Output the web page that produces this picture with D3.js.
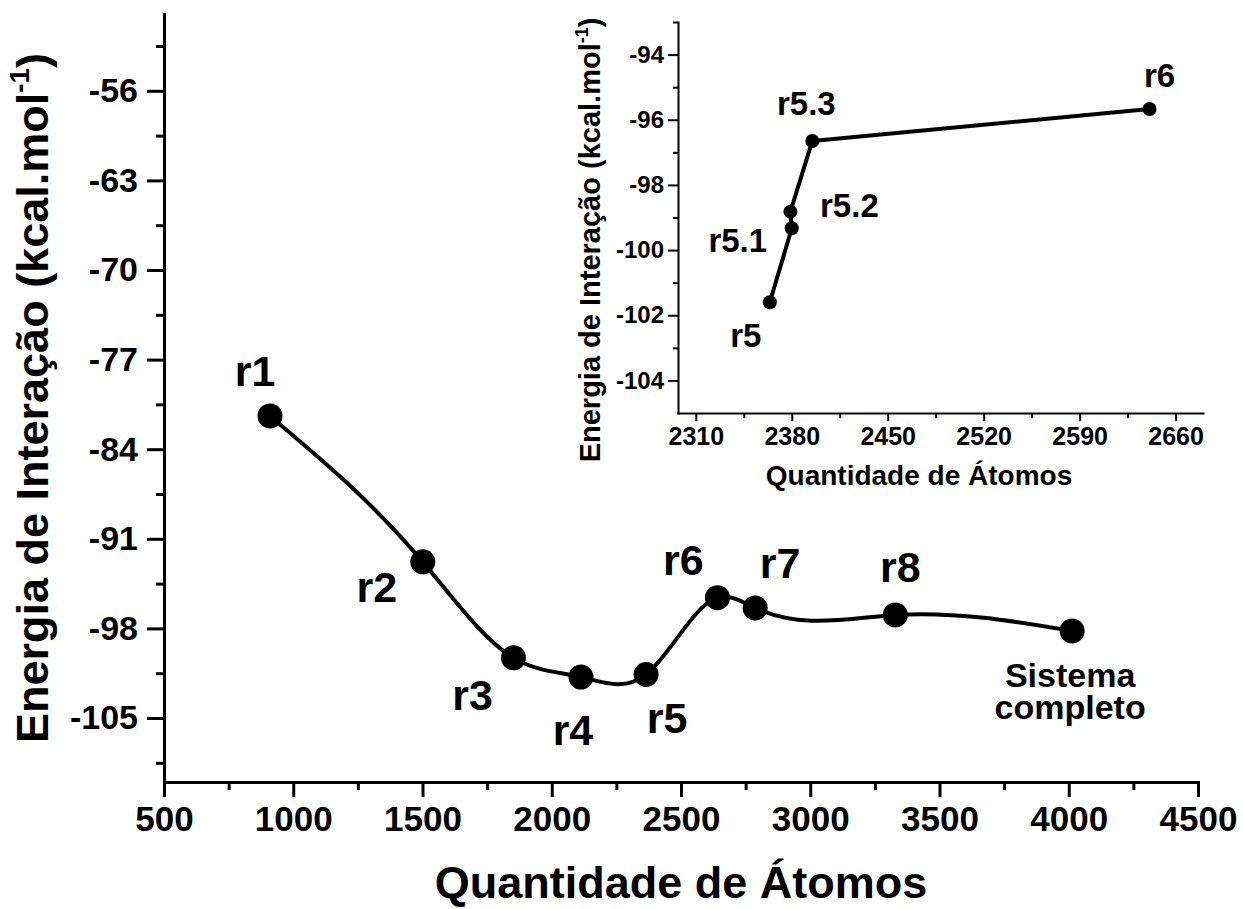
<!DOCTYPE html>
<html>
<head>
<meta charset="utf-8">
<script src="https://cdn.jsdelivr.net/npm/d3@7"></script>
<style>
  html, body { margin: 0; padding: 0; background: #fff; }
  svg { display: block; }
  text { font-family: "Liberation Sans", Arial, sans-serif; font-weight: bold; fill: #000; }
</style>
</head>
<body>
<svg id="chart" width="1243" height="909"></svg>
<script>
// Main series: interaction energy vs. number of atoms per region
const regions = ["r1", "r2", "r3", "r4", "r5", "r6", "r7", "r8", "Sistema completo"];
const atoms   = [910, 1501, 1852, 2113, 2365, 2641, 2787, 3329, 4013];
const energy  = [-81.4, -92.8, -100.3, -101.8, -101.6, -95.6, -96.4, -96.95, -98.2];

// Inset series: intermediate regions between r5 and r6
const insetRegions = ["r5", "r5.1", "r5.2", "r5.3", "r6"];
const insetAtoms   = [2364, 2380, 2379, 2395, 2641];
const insetEnergy  = [-101.6, -99.33, -98.82, -96.65, -95.67];

// Tick values
const mainXTicks  = [500, 1000, 1500, 2000, 2500, 3000, 3500, 4000, 4500];
const mainXMinor  = [750, 1250, 1750, 2250, 2750, 3250, 3750, 4250];
const mainYTicks  = [-105, -98, -91, -84, -77, -70, -63, -56];
const mainYMinor  = [-108.5, -101.5, -94.5, -87.5, -80.5, -73.5, -66.5, -59.5, -52.5];
const insetXTicks = [2310, 2380, 2450, 2520, 2590, 2660];
const insetXMinor = [2345, 2415, 2485, 2555, 2625];
const insetYTicks = [-104, -102, -100, -98, -96, -94];
const insetYMinor = [-103, -101, -99, -97, -95, -93];

// Label placement relative to each marker (pixels)
const mainLabelOffsets  = [[-15, -30], [-46, 40], [-41, 52], [-8, 68], [21, 59], [-34, -23], [25, -30], [5, -33], [-2, 56]];
const insetLabelOffsets = [[-24, 45], [-54, 24], [59, 5], [-6, -26], [10, -22]];

// Cubic spline through the points, y as a function of x (natural end conditions)
function curveSplineX(context) { return new SplineX(context); }
function SplineX(context) { this._context = context; }
SplineX.prototype = {
  areaStart() { this._line = 0; },
  areaEnd() { this._line = NaN; },
  lineStart() { this._x = []; this._y = []; },
  point(x, y) { this._x.push(+x); this._y.push(+y); },
  lineEnd() {
    const xs = this._x, ys = this._y, n = xs.length, c = this._context;
    if (!n) return;
    c.moveTo(xs[0], ys[0]);
    if (n === 1) return;
    if (n === 2) { c.lineTo(xs[1], ys[1]); return; }
    const h = [];
    for (let i = 0; i < n - 1; i++) h.push(xs[i + 1] - xs[i]);
    const a = [], b = [], cc = [], d = [];
    for (let i = 1; i < n - 1; i++) {
      a.push(h[i - 1]); b.push(2 * (h[i - 1] + h[i])); cc.push(h[i]);
      d.push(6 * ((ys[i + 1] - ys[i]) / h[i] - (ys[i] - ys[i - 1]) / h[i - 1]));
    }
    const m = b.length;
    for (let i = 1; i < m; i++) {
      const w = a[i] / b[i - 1];
      b[i] -= w * cc[i - 1];
      d[i] -= w * d[i - 1];
    }
    const sol = new Array(m);
    sol[m - 1] = d[m - 1] / b[m - 1];
    for (let i = m - 2; i >= 0; i--) sol[i] = (d[i] - cc[i] * sol[i + 1]) / b[i];
    const M = new Array(n).fill(0);
    for (let i = 1; i < n - 1; i++) M[i] = sol[i - 1];
    for (let i = 0; i < n - 1; i++) {
      const hi = h[i], slope = (ys[i + 1] - ys[i]) / hi;
      const s0 = slope - hi * (2 * M[i] + M[i + 1]) / 6;
      const s1 = slope + hi * (M[i] + 2 * M[i + 1]) / 6;
      c.bezierCurveTo(xs[i] + hi / 3, ys[i] + s0 * hi / 3,
                      xs[i + 1] - hi / 3, ys[i + 1] - s1 * hi / 3,
                      xs[i + 1], ys[i + 1]);
    }
  }
};

const svg = d3.select("#chart");
svg.append("rect").attr("width", 1243).attr("height", 909).attr("fill", "#fff");

function drawAxes(g, x, y, o) {
  const bottom = y.range()[0];
  const left = x.range()[0];
  // minor ticks
  g.append("g").attr("transform", `translate(0,${bottom})`)
    .call(d3.axisBottom(x).tickValues(o.xMinor).tickSize(o.minorLen).tickFormat(""))
    .call(s => s.select(".domain").remove())
    .selectAll("line").attr("stroke-width", o.sw);
  g.append("g").attr("transform", `translate(${left},0)`)
    .call(d3.axisLeft(y).tickValues(o.yMinor).tickSize(o.minorLen).tickFormat(""))
    .call(s => s.select(".domain").remove())
    .selectAll("line").attr("stroke-width", o.sw);
  // major ticks + labels
  const gx = g.append("g").attr("transform", `translate(0,${bottom})`)
    .call(d3.axisBottom(x).tickValues(o.xTicks).tickSize(o.majorLenX).tickSizeOuter(0)
      .tickPadding(o.padX).tickFormat(d3.format("d")));
  const gy = g.append("g").attr("transform", `translate(${left},0)`)
    .call(d3.axisLeft(y).tickValues(o.yTicks).tickSize(o.majorLenY).tickSizeOuter(0)
      .tickPadding(o.padY).tickFormat(d => d3.format("d")(d).replace("−", "-")));
  [gx, gy].forEach(ax => {
    ax.selectAll("line").attr("stroke-width", o.sw);
    ax.select(".domain").attr("stroke-width", o.sw).attr("stroke-linecap", "square");
    ax.selectAll("text").attr("font-family", null).attr("font-size", null)
      .style("font-size", o.tickFont + "px");
  });
  gx.selectAll("text").style("font-size", o.tickFontX + "px");
}

function yTitle(g, x, y, size) {
  const t = g.append("text")
    .attr("transform", `translate(${x},${y}) rotate(-90)`)
    .attr("text-anchor", "middle")
    .style("font-size", size + "px");
  t.append("tspan").text("Energia de Interação (kcal.mol");
  t.append("tspan").attr("dy", -0.42 * size).style("font-size", (size * 0.62) + "px").text("-1");
  t.append("tspan").attr("dy", 0.42 * size).text(")");
}

// ---------- main chart ----------
const x = d3.scaleLinear().domain([500, 4500]).range([164, 1198]);
const y = d3.scaleLinear().domain([-110, -50]).range([782, 14]);
const main = svg.append("g");

drawAxes(main, x, y, {
  xTicks: mainXTicks, xMinor: mainXMinor, yTicks: mainYTicks, yMinor: mainYMinor,
  majorLenX: 15, majorLenY: 17, minorLen: 8, padX: 9, padY: 9, sw: 3,
  tickFont: 34, tickFontX: 35
});

const mainPts = atoms.map((a, i) => ({ x: a, y: energy[i], name: regions[i], off: mainLabelOffsets[i] }));

main.append("path")
  .datum(mainPts)
  .attr("fill", "none").attr("stroke", "#000").attr("stroke-width", 4)
  .attr("d", d3.line().x(d => x(d.x)).y(d => y(d.y)).curve(curveSplineX));

main.selectAll("circle.m").data(mainPts).join("circle")
  .attr("class", "m").attr("cx", d => x(d.x)).attr("cy", d => y(d.y)).attr("r", 12.5).attr("fill", "#000");

main.selectAll("text.lbl").data(mainPts).join("text")
  .attr("class", "lbl")
  .attr("text-anchor", "middle")
  .attr("x", d => x(d.x) + d.off[0])
  .attr("y", d => y(d.y) + d.off[1])
  .style("font-size", d => d.name.includes(" ") ? "34px" : "43px")
  .each(function (d) {
    const words = d.name.split(" ");
    const sel = d3.select(this);
    words.forEach((w, k) => {
      sel.append("tspan").attr("x", x(d.x) + d.off[0]).attr("dy", k === 0 ? 0 : 32).text(w);
    });
  });

main.append("text").attr("x", 681).attr("y", 898).attr("text-anchor", "middle")
  .style("font-size", "45px").text("Quantidade de Átomos");
yTitle(main, 48, 398, 45);

// ---------- inset ----------
const xi = d3.scaleLinear().domain([2297, 2680]).range([678, 1203]);
const yi = d3.scaleLinear().domain([-105, -93]).range([413, 22]);
const inset = svg.append("g");

drawAxes(inset, xi, yi, {
  xTicks: insetXTicks, xMinor: insetXMinor, yTicks: insetYTicks, yMinor: insetYMinor,
  majorLenX: 8, majorLenY: 10, minorLen: 5, padX: 6, padY: 4, sw: 2,
  tickFont: 24, tickFontX: 25
});

const insetPts = insetAtoms.map((a, i) => ({ x: a, y: insetEnergy[i], name: insetRegions[i], off: insetLabelOffsets[i] }));

inset.append("path")
  .datum(insetPts)
  .attr("fill", "none").attr("stroke", "#000").attr("stroke-width", 4)
  .attr("stroke-linejoin", "round")
  .attr("d", d3.line().x(d => xi(d.x)).y(d => yi(d.y)));

inset.selectAll("circle.i").data(insetPts).join("circle")
  .attr("class", "i").attr("cx", d => xi(d.x)).attr("cy", d => yi(d.y)).attr("r", 7).attr("fill", "#000");

inset.selectAll("text.lbl").data(insetPts).join("text")
  .attr("class", "lbl")
  .attr("text-anchor", "middle")
  .attr("x", d => xi(d.x) + d.off[0])
  .attr("y", d => yi(d.y) + d.off[1])
  .style("font-size", "33px")
  .text(d => d.name);

inset.append("text").attr("x", 919).attr("y", 485).attr("text-anchor", "middle")
  .style("font-size", "28px").text("Quantidade de Átomos");
yTitle(inset, 600, 240, 29);
</script>
</body>
</html>
